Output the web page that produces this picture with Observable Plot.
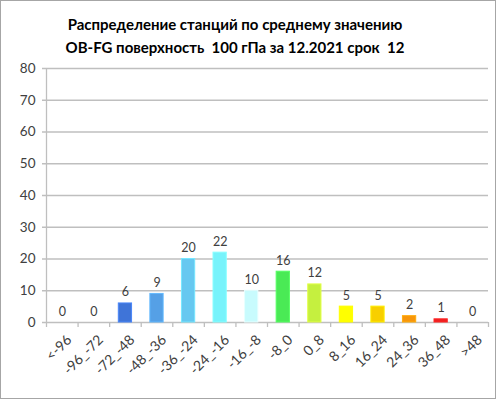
<!DOCTYPE html>
<html><head><meta charset="utf-8">
<script src="https://cdn.jsdelivr.net/npm/d3@7"></script>
<script src="https://cdn.jsdelivr.net/npm/@observablehq/plot@0.6"></script>
<style>
html,body{margin:0;padding:0;background:#fff;}
#wrap{position:relative;width:496px;height:399px;box-sizing:border-box;border:1px solid #a6a6a6;background:#fff;overflow:hidden;}
#title{position:absolute;left:0;top:12px;width:468px;text-align:center;font-family:Lato,"Open Sans",sans-serif;font-weight:bold;font-size:15px;line-height:23px;color:#000;}
#chart{position:absolute;left:0;top:59px;}
</style></head>
<body><div id="wrap"><div id="title">Распределение станций по среднему значению<br>OB-FG поверхность&nbsp; 100 гПа за 12.2021 срок&nbsp; 12</div><div id="chart"></div></div>
<script>
const categories = ["<-96","-96_-72","-72_-48","-48_-36","-36_-24","-24_-16","-16_-8","-8_0","0_8","8_16","16_24","24_36","36_48",">48"];
const counts = [0,0,6,9,20,22,10,16,12,5,5,2,1,0];
const colors = ["#3f74d8","#3f74d8","#3f74d8","#55a0e6","#66c8f0","#77f3fb","#c8fbfd","#4aea55","#c5f03f","#ffff00","#f8cf00","#f7960b","#ef2020","#ef2020"];
const yTicks = [0,10,20,30,40,50,60,70,80];

const n = categories.length;
const data = categories.map((c,i)=>({i, cat:c, count:counts[i], color:colors[i]}));
const bounds = d3.range(n + 1);
const W = 494, H = 338, mL = 45, mR = 7, mT = 8, mB = 76;
const gray = "#bfbfbf";
const txt = "#404040";
const px = 80 / (H - mT - mB);
const pad = 0.29;

const plot = Plot.plot({
  width: W, height: H,
  marginLeft: mL, marginRight: mR, marginTop: mT, marginBottom: mB,
  style: {fontFamily: "Lato, 'Open Sans', sans-serif", fontSize: "13px", color: txt, background: "transparent"},
  x: {type: "linear", domain: [0, n], axis: null},
  y: {domain: [0, 80], axis: null},
  marks: [
    Plot.ruleY(yTicks, {y: d=>d, x1: 0, x2: n, stroke: gray, strokeWidth: 1.3, insetLeft: -4}),
    Plot.ruleX([0], {x: d=>d, y1: 0, y2: 80, stroke: gray, strokeWidth: 1.3}),
    Plot.ruleX(bounds, {x: d=>d, y1: 0, y2: -5*px, stroke: gray, strokeWidth: 1.3}),
    Plot.text(yTicks, {x: 0, y: d=>d, text: d=>String(d), textAnchor: "end", dx: -11, fill: txt, fontSize: 13.5}),
    Plot.rectY(data, {x1: d=>d.i + pad, x2: d=>d.i + 1 - pad, y1: 0, y2: "count", fill: "color", stroke: d=>d3.color(d.color).brighter(0.4).formatHex(), strokeWidth: 1}),
    Plot.text(data, {x: d=>d.i + 0.5, y: "count", text: d=>String(d.count), dy: -11, fill: txt, fontSize: 12.5}),
    Plot.text(data, {x: d=>d.i + 0.5, y: 0, text: "cat", dy: 15, dx: 7, rotate: -45, textAnchor: "end", fill: txt, fontSize: 14})
  ]
});
document.getElementById("chart").appendChild(plot);
</script></body></html>
